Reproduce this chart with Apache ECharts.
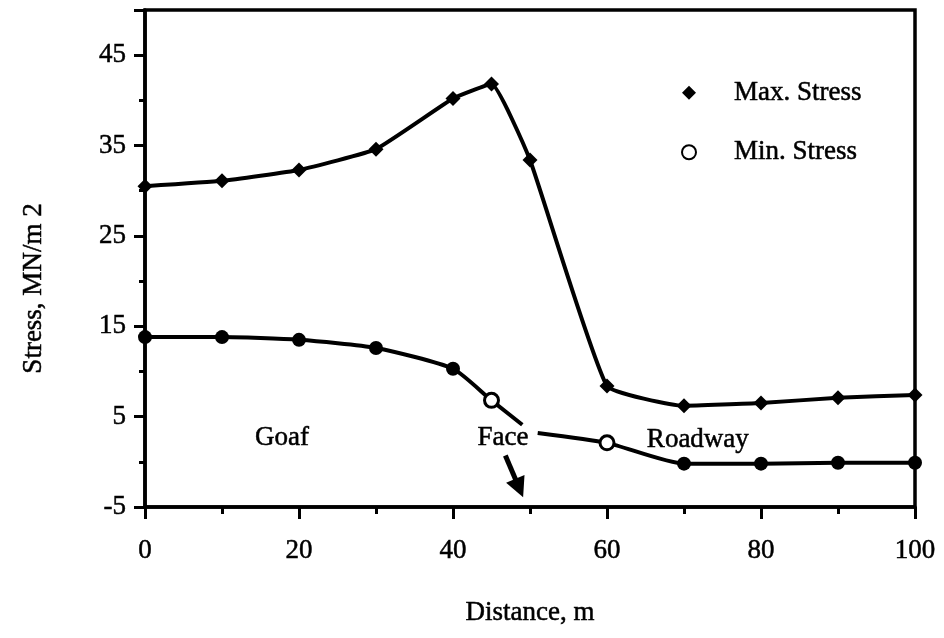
<!DOCTYPE html>
<html>
<head>
<meta charset="utf-8">
<script src="https://cdn.jsdelivr.net/npm/echarts@6/dist/echarts.min.js"></script>
<style>
html,body{margin:0;padding:0;background:#fff;}
#chart{width:944px;height:638px;}
</style>
</head>
<body>
<div id="chart"></div>
<script>
// Data
const distance = [0, 10, 20, 30, 40, 45, 50, 60, 70, 80, 90, 100];
const maxStress = [30.5, 31.1, 32.3, 34.6, 40.2, 41.8, 33.4, 8.4, 6.2, 6.5, 7.1, 7.4];
// min-stress line is interrupted at the face (x = 49..51)
const minDistance = [0, 10, 20, 30, 40, 45, 49, 50, 51, 60, 70, 80, 90, 100];
const minStress = [13.8, 13.8, 13.5, 12.6, 10.3, 6.8, 4.1, null, 3.2, 2.1, -0.2, -0.2, -0.1, -0.1];
const hollowMinAt = [45, 60];
const xTicks = [0, 20, 40, 60, 80, 100];
const yTicks = [-5, 5, 15, 25, 35, 45];
const regionLabels = ['Goaf', 'Face', 'Roadway'];
const regionLabelPos = [[17.8, 2.6], [46.5, 2.6], [71.8, 2.4]];
const faceArrow = [[46.8, 0.7], [48.6, -2.9]];

const FONT = 'Liberation Serif';
const FS = 27;
const TXT = { fontFamily: FONT, fontSize: FS, color: '#000', textBorderColor: '#000', textBorderWidth: 0.5 };
const chart = echarts.init(document.getElementById('chart'));

const maxData = distance.map((d, i) => [d, maxStress[i]]);
const minData = minDistance.map((d, i) => {
  const item = { value: [d, minStress[i]] };
  if (distance.indexOf(d) < 0) item.symbol = 'none';
  if (hollowMinAt.indexOf(d) >= 0) item.itemStyle = { color: '#fff', borderColor: '#000', borderWidth: 3 };
  return item;
});

const option = {
  animation: false,
  backgroundColor: '#fff',
  textStyle: { fontFamily: FONT, color: '#000' },
  grid: { left: 145, right: 29, top: 10, bottom: 131, show: true, borderColor: '#000', borderWidth: 3.5 },
  legend: {
    orient: 'vertical', left: 676, top: 74, itemWidth: 14, itemHeight: 14, itemGap: 32,
    textStyle: Object.assign({}, TXT, { padding: [0, 0, 0, 33] }),
    data: [
      { name: 'Max. Stress', icon: 'diamond' },
      { name: 'Min. Stress', icon: 'emptyCircle', itemStyle: { borderWidth: 3.5 } }
    ]
  },
  xAxis: {
    type: 'value', min: 0, max: 100, interval: 20,
    name: 'Distance, m', nameLocation: 'middle', nameGap: 92,
    nameTextStyle: TXT,
    axisLine: { onZero: false, lineStyle: { color: '#000', width: 3.5 } },
    axisTick: { show: true, length: 12, lineStyle: { color: '#000', width: 3 } },
    minorTick: { show: true, splitNumber: 2, length: 7, lineStyle: { color: '#000', width: 3 } },
    axisLabel: Object.assign({}, TXT, { margin: 30,
      formatter: v => (xTicks.indexOf(v) >= 0 ? String(v) : '') }),
    splitLine: { show: false }
  },
  yAxis: {
    type: 'value', min: -5, max: 50, interval: 10,
    name: 'Stress, MN/m 2', nameLocation: 'middle', nameGap: 98, nameRotate: 90,
    nameTextStyle: Object.assign({}, TXT, { padding: [0, 60, 0, 0] }),
    axisLine: { onZero: false, lineStyle: { color: '#000', width: 3.5 } },
    axisTick: { show: true, length: 11, lineStyle: { color: '#000', width: 3 } },
    minorTick: { show: true, splitNumber: 2, length: 6, lineStyle: { color: '#000', width: 3 } },
    axisLabel: Object.assign({}, TXT, { margin: 19,
      formatter: v => (yTicks.indexOf(v) >= 0 ? String(v) : '') }),
    splitLine: { show: false }
  },
  series: [
    {
      name: 'Max. Stress', type: 'line', data: maxData, smooth: 0.12,
      symbol: 'diamond', symbolSize: 15, showAllSymbol: true,
      lineStyle: { color: '#000', width: 4 }, itemStyle: { color: '#000' },
      markPoint: {
        symbol: 'circle', symbolSize: 0,
        label: Object.assign({}, TXT, { show: true, position: 'inside', formatter: p => p.name }),
        data: regionLabels.map((n, i) => ({ name: n, coord: regionLabelPos[i] }))
      }
    },
    {
      name: 'Min. Stress', type: 'line', data: minData, smooth: 0.2, connectNulls: false,
      symbol: 'circle', symbolSize: 14, showAllSymbol: true,
      lineStyle: { color: '#000', width: 4 }, itemStyle: { color: '#000' },
      markLine: {
        silent: true, symbol: ['none', 'triangle'], symbolSize: 20,
        lineStyle: { color: '#000', width: 5, type: 'solid' },
        emphasis: { disabled: true },
        label: { show: false },
        data: [[{ coord: faceArrow[0] }, { coord: faceArrow[1] }]]
      }
    }
  ]
};
chart.setOption(option);
</script>
</body>
</html>
